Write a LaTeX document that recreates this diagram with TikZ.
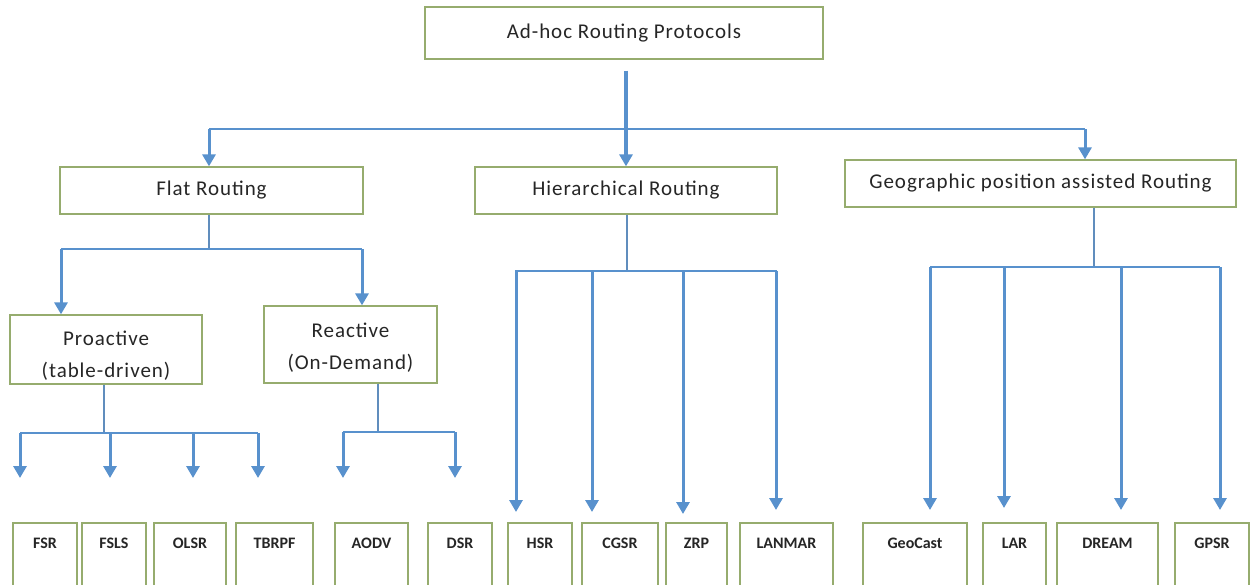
\documentclass[tikz,border=0pt]{standalone}
\usepackage{fontspec}
\setmainfont{Carlito}
\usetikzlibrary{arrows.meta}
\definecolor{linkblue}{RGB}{88,145,205}
\definecolor{boxgreen}{RGB}{150,172,110}
\definecolor{txt}{RGB}{38,38,38}
\tikzset{
  box/.style={draw=boxgreen, line width=1.3pt, fill=white, text=txt, inner sep=0pt, align=center},
  headbox/.style={box, font=\fontsize{21}{32}\selectfont\addfontfeatures{LetterSpace=4.5}},
  leafbox/.style={box, font=\fontsize{16}{17}\bfseries\selectfont, text height=25pt, text depth=40pt},
  bigarrow/.style={draw=linkblue, line width=4pt, -{Triangle[width=13pt,length=12pt]}},
  droparrow/.style={draw=linkblue, line width=3pt, -{Triangle[width=13pt,length=12pt]}},
  busline/.style={draw=linkblue, line width=2pt},
  stemline/.style={draw=linkblue!80!gray, line width=1.5pt},
}
\begin{document}
\begin{tikzpicture}[x=1pt,y=-1pt]
\useasboundingbox (0,0) rectangle (1250,584);

% upper levels
\node[headbox, minimum width=398pt, minimum height=52pt] (top)  at (624,33)    {Ad-hoc Routing Protocols};
\node[headbox, minimum width=303pt, minimum height=47pt] (flat) at (211.5,190.5) {Flat Routing};
\node[headbox, minimum width=302pt, minimum height=47pt] (hier) at (626,190.5)   {Hierarchical Routing};
\node[headbox, minimum width=391pt, minimum height=47pt] (geo)  at (1040.5,183.5) {Geographic position assisted Routing};
\node[headbox, minimum width=192pt, minimum height=69pt] (pro) at (106,349.5) {\rule{0pt}{27pt}Proactive\\(table-driven)};
\node[headbox, minimum width=173pt, minimum height=77pt] (rea) at (350.5,344.5) {\rule{0pt}{21pt}Reactive\\(On-Demand)};

% protocols
\node[leafbox, minimum width=64pt]  (fsr)     at (45,555.5)    {FSR};
\node[leafbox, minimum width=64pt]  (fsls)    at (114,555.5)   {FSLS};
\node[leafbox, minimum width=72pt]  (olsr)    at (190,555.5)   {OLSR};
\node[leafbox, minimum width=77pt]  (tbrpf)   at (274.5,555.5) {TBRPF};
\node[leafbox, minimum width=73pt]  (aodv)    at (371.5,555.5) {AODV};
\node[leafbox, minimum width=64pt]  (dsr)     at (460,555.5)   {DSR};
\node[leafbox, minimum width=64pt]  (hsr)     at (540,555.5)   {HSR};
\node[leafbox, minimum width=76pt]  (cgsr)    at (620,555.5)   {CGSR};
\node[leafbox, minimum width=61pt]  (zrp)     at (696.5,555.5) {ZRP};
\node[leafbox, minimum width=93pt]  (lanmar)  at (786.5,555.5) {LANMAR};
\node[leafbox, minimum width=104pt] (geocast) at (915,555.5)   {GeoCast};
\node[leafbox, minimum width=63pt]  (lar)     at (1014.5,555.5){LAR};
\node[leafbox, minimum width=101pt] (dream)   at (1107.5,555.5){DREAM};
\node[leafbox, minimum width=74pt]  (gpsr)    at (1212,555.5)  {GPSR};

% root to the three routing families
\draw[bigarrow, shorten <=11pt] (top.south -| hier.north) -- (hier.north);
\coordinate (busL) at (209,129);
\coordinate (busR) at (1085,129);
\draw[busline] (busL) -- (busR);
\draw[droparrow] (busL) -- (busL |- flat.north);
\draw[droparrow] (busR) -- (busR |- geo.north);

% flat routing
\coordinate (fj) at (209,249);
\coordinate (fL) at (61,249);
\coordinate (fR) at (362,249);
\draw[stemline] (fj |- flat.south) -- (fj);
\draw[busline] (fL) -- (fR);
\draw[droparrow] (fL) -- (fL |- pro.north);
\draw[droparrow] (fR) -- (fR |- rea.north);

% proactive
\coordinate (pj) at (104,433);
\draw[stemline] (pj |- pro.south) -- (pj);
\draw[busline] (20,433) -- (258,433);
\foreach \x/\n in {20/p1,110/p2,193/p3,258/p4}{
  \coordinate (\n) at (\x,433);
  \draw[droparrow] (\n) -- ++(0,45);
}

% reactive
\coordinate (rj) at (378,432);
\draw[stemline] (rj |- rea.south) -- (rj);
\draw[busline] (343,432) -- (455,432);
\foreach \x/\n in {343/r1,455/r2}{
  \coordinate (\n) at (\x,432);
  \draw[droparrow] (\n) -- ++(0,46);
}

% hierarchical
\coordinate (hj) at (627,271);
\draw[stemline] (hj |- hier.south) -- (hj);
\draw[busline] (515,271) -- (777,271);
\foreach \x/\t/\n in {516/512/h1,592/512/h2,683/514/h3,776/510/h4}{
  \coordinate (\n) at (\x,271);
  \draw[droparrow] (\n) -- (\x,\t);
}

% geographic
\coordinate (gj) at (1094,267);
\draw[stemline] (gj |- geo.south) -- (gj);
\draw[busline] (930,267) -- (1220,267);
\foreach \x/\t/\n in {930/510/g1,1004/508/g2,1121/510/g3,1220/510/g4}{
  \coordinate (\n) at (\x,267);
  \draw[droparrow] (\n) -- (\x,\t);
}
\end{tikzpicture}
\end{document}
